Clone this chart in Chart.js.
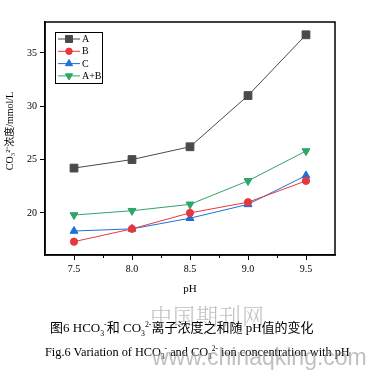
<!DOCTYPE html>
<html>
<head>
<meta charset="utf-8">
<script src="https://cdn.jsdelivr.net/npm/chart.js@4.4.1/dist/chart.umd.min.js"></script>
<style>
  body { margin: 0; background: #fff; width: 376px; height: 375px; overflow: hidden; position: relative; }
  #wrap { position: absolute; left: 0; top: 0; width: 376px; height: 300px; }
  .cap { position: absolute; white-space: nowrap; color: #000; }
  #cap1 { top: 317px; left: 50px; font-family: "Liberation Serif", "Noto Sans CJK SC", serif; font-size: 13px; }
  #cap2 { top: 345px; left: 45px; font-family: "Liberation Serif", serif; font-size: 12.3px; }
  .wm { position: absolute; color: rgba(140,140,140,0.55); white-space: nowrap; }
  #wm1 { left: 150px; top: 299px; font-family: "Noto Serif CJK SC", "Noto Sans CJK SC", serif; font-size: 22px; letter-spacing: 1px; font-weight: 300; }
  #wm2 { left: 152px; top: 344px; font-family: "Liberation Sans", sans-serif; font-size: 23px; }
  sub, sup { font-size: 60%; line-height: 0; }
</style>
</head>
<body>
<div id="wrap"><canvas id="lineChart" width="376" height="300"></canvas></div>
<div class="wm" id="wm1">中国期刊网</div>
<div class="cap" id="cap1">图6 HCO<sub>3</sub><sup>-</sup>和 CO<sub>3</sub><sup>2-</sup>离子浓度之和随 pH值的变化</div>
<div class="cap" id="cap2">Fig.6 Variation of HCO<sub>3</sub><sup>-</sup> and CO<sub>3</sub><sup>2-</sup> ion concentration with pH</div>
<div class="wm" id="wm2">www.chinaqking.com</div>
<script>
const phValues = [7.5, 8.0, 8.5, 9.0, 9.5];
const seriesA = [24.2, 25.0, 26.2, 31.0, 36.7];
const seriesB = [17.3, 18.5, 20.0, 21.0, 23.0];
const seriesC = [18.3, 18.5, 19.5, 20.8, 23.5];
const seriesAB = [19.8, 20.2, 20.8, 23.0, 25.8];
const seriesNames = ['A', 'B', 'C', 'A+B'];
const xTicks = [7.5, 8.0, 8.5, 9.0, 9.5];
const yTicks = [20, 25, 30, 35];

const colors = ['#4a4a4a', '#e8373c', '#1f6fd8', '#2ea56a'];
const shapes = ['rect', 'circle', 'triangle', 'triangle'];
const rots = [0, 0, 0, 180];
const radii = [5.5, 3.6, 4.6, 4.6];
const allSeries = [seriesA, seriesB, seriesC, seriesAB];

const toPoints = vals => vals.map((v, i) => ({ x: phValues[i], y: v }));

const frameAndExtras = {
  id: 'frameAndExtras',
  afterDraw(chart) {
    const ctx = chart.ctx;
    const a = chart.chartArea;
    const xs = chart.scales.x;
    ctx.save();
    ctx.strokeStyle = '#000';
    ctx.lineWidth = 1.5;
    ctx.strokeRect(a.left, a.top, a.right - a.left, a.bottom - a.top);
    // minor ticks on x
    ctx.lineWidth = 1;
    [7.75, 8.25, 8.75, 9.25].forEach(v => {
      const px = Math.round(xs.getPixelForValue(v)) + 0.5;
      ctx.beginPath();
      ctx.moveTo(px, a.bottom);
      ctx.lineTo(px, a.bottom + 3);
      ctx.stroke();
    });
    // legend box
    const lx = 55, ly = 32, lw = 47, lh = 51;
    ctx.lineWidth = 1;
    ctx.strokeRect(lx + 0.5, ly + 0.5, lw, lh);
    ctx.font = '10px "Liberation Serif", serif';
    ctx.textBaseline = 'middle';
    chart.data.datasets.forEach((ds, i) => {
      const yy = ly + 7 + i * 12.3;
      ctx.strokeStyle = ds.borderColor;
      ctx.lineWidth = 1;
      ctx.beginPath();
      ctx.moveTo(lx + 3, yy);
      ctx.lineTo(lx + 25, yy);
      ctx.stroke();
      ctx.fillStyle = ds.pointBackgroundColor;
      Chart.helpers.drawPoint(ctx, {
        pointStyle: ds.pointStyle, radius: ds.pointRadius * 0.9, rotation: ds.rotation,
        borderWidth: 1
      }, lx + 14, yy);
      ctx.fillStyle = '#000';
      ctx.fillText(ds.label, lx + 27, yy + 0.5);
    });
    ctx.restore();
  }
};

new Chart(document.getElementById('lineChart'), {
  type: 'line',
  data: {
    datasets: allSeries.map((s, i) => ({
      label: seriesNames[i],
      data: toPoints(s),
      borderColor: colors[i],
      backgroundColor: colors[i],
      pointBackgroundColor: colors[i],
      pointBorderColor: colors[i],
      pointStyle: shapes[i],
      rotation: rots[i],
      pointRadius: radii[i],
      borderWidth: 1,
      tension: 0
    }))
  },
  options: {
    responsive: false,
    animation: false,
    layout: { padding: { top: 22, right: 41, left: 0, bottom: 0 } },
    plugins: { legend: { display: false }, tooltip: { enabled: false } },
    scales: {
      x: {
        type: 'linear',
        min: 7.25, max: 9.75,
        afterBuildTicks: s => { s.ticks = xTicks.map(v => ({ value: v })); },
        afterFit: s => { s.height = 45; },
        ticks: {
          color: '#000', padding: 3,
          font: { family: '"Liberation Serif", serif', size: 10 },
          callback: v => v.toFixed(1)
        },
        grid: { drawOnChartArea: false, drawTicks: true, tickLength: 5, color: '#000', lineWidth: 1 },
        border: { display: true, color: '#000', width: 1.5 },
        title: {
          display: true, text: 'pH', color: '#000', padding: { top: 4 },
          font: { family: '"Liberation Serif", serif', size: 11 }
        }
      },
      y: {
        min: 16.05, max: 37.9,
        afterBuildTicks: s => { s.ticks = yTicks.map(v => ({ value: v })); },
        afterFit: s => { s.width = 45; },
        ticks: {
          color: '#000', padding: 3,
          font: { family: '"Liberation Serif", serif', size: 10 }
        },
        grid: { drawOnChartArea: false, drawTicks: true, tickLength: 5, color: '#000', lineWidth: 1 },
        border: { display: true, color: '#000', width: 1.5 },
        title: {
          display: true, text: '      CO₃²⁻浓度/mmol/L', color: '#000', padding: { bottom: 2 },
          font: { family: '"Liberation Serif", "Noto Sans CJK SC", serif', size: 10 }
        }
      }
    }
  },
  plugins: [frameAndExtras]
});
</script>
</body>
</html>
